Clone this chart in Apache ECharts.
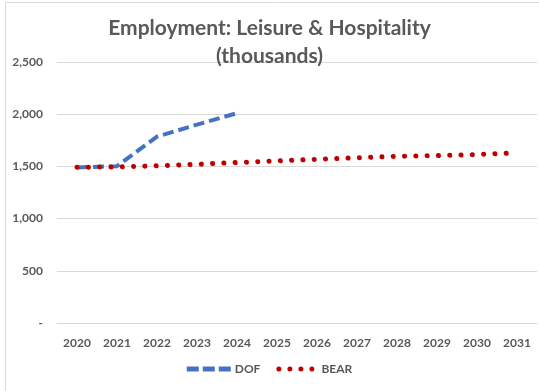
<!DOCTYPE html>
<html>
<head>
<meta charset="utf-8">
<script src="https://cdn.jsdelivr.net/npm/echarts@6/dist/echarts.min.js"></script>
<style>
  html, body { margin: 0; padding: 0; background: #fff; }
  #chart { width: 539px; height: 391px; }
</style>
</head>
<body>
<div id="chart"></div>
<script>
// Leisure & Hospitality employment, thousands
const years = ['2020', '2021', '2022', '2023', '2024', '2025', '2026', '2027', '2028', '2029', '2030', '2031'];
const dofValues = [1490, 1502, 1785, 1900, 2010, null, null, null, null, null, null, null];
const bearValues = [1492, 1495, 1506, 1520, 1537, 1553, 1568, 1583, 1597, 1603, 1614, 1630];
const yTicks = { min: 0, max: 2500, interval: 500 };

const grey = '#595959';
const font = 'Lato, "Open Sans", sans-serif';

// legend swatches: three dashes / four round dots
const dashIcon = 'path://M0,0h12v5h-12z M16,0h12v5h-12z M32,0h12v5h-12z';
const dotIcon = 'path://M0,2.5a2.5,2.5 0 1,0 5,0a2.5,2.5 0 1,0 -5,0z' +
  ' M11,2.5a2.5,2.5 0 1,0 5,0a2.5,2.5 0 1,0 -5,0z' +
  ' M22,2.5a2.5,2.5 0 1,0 5,0a2.5,2.5 0 1,0 -5,0z' +
  ' M33,2.5a2.5,2.5 0 1,0 5,0a2.5,2.5 0 1,0 -5,0z';

const chart = echarts.init(document.getElementById('chart'), null, { renderer: 'canvas' });

chart.setOption({
  animation: false,
  backgroundColor: '#fff',
  title: {
    text: 'Employment: Leisure & Hospitality\n(thousands)',
    left: 'center',
    top: 9,
    textStyle: {
      fontFamily: font,
      fontSize: 21,
      fontWeight: 'bold',
      color: grey,
      lineHeight: 28
    }
  },
  graphic: [{
    type: 'rect',
    shape: { x: 5.5, y: 2.5, width: 560, height: 420 },
    style: { fill: 'none', stroke: '#d9d9d9', lineWidth: 1 },
    silent: true
  }],
  grid: { left: 57, right: 2, top: 62, bottom: 68 },
  legend: {
    bottom: 11,
    left: 'center',
    itemWidth: 44,
    itemHeight: 5,
    itemGap: 16,
    textStyle: { fontFamily: font, fontSize: 12, fontWeight: 'bold', color: grey, padding: [0, 0, 0, -1] },
    data: [
      { name: 'DOF', icon: dashIcon },
      { name: 'BEAR', icon: dotIcon }
    ]
  },
  xAxis: {
    type: 'category',
    data: years,
    boundaryGap: true,
    axisLine: { show: true, lineStyle: { color: '#d9d9d9', width: 1 } },
    axisTick: { show: false },
    axisLabel: {
      fontFamily: font,
      fontSize: 12,
      fontWeight: 'bold',
      color: grey,
      margin: 14
    }
  },
  yAxis: {
    type: 'value',
    min: yTicks.min,
    max: yTicks.max,
    interval: yTicks.interval,
    axisLine: { show: false },
    axisTick: { show: false },
    splitLine: { lineStyle: { color: '#d9d9d9', width: 1 } },
    axisLabel: {
      fontFamily: font,
      fontSize: 12,
      fontWeight: 'bold',
      color: grey,
      margin: 14,
      formatter: v => v === 0 ? '-' : v.toLocaleString('en-US')
    }
  },
  series: [
    {
      name: 'DOF',
      type: 'line',
      data: dofValues,
      symbol: 'none',
      connectNulls: false,
      z: 3,
      itemStyle: { color: '#4472C4' },
      lineStyle: { color: '#4472C4', width: 4, type: [11, 5], cap: 'butt' }
    },
    {
      name: 'BEAR',
      type: 'line',
      data: bearValues,
      symbol: 'none',
      z: 4,
      itemStyle: { color: '#C00000' },
      lineStyle: { color: '#C00000', width: 5, type: [0.1, 11.2], cap: 'round' }
    }
  ]
});
</script>
</body>
</html>
